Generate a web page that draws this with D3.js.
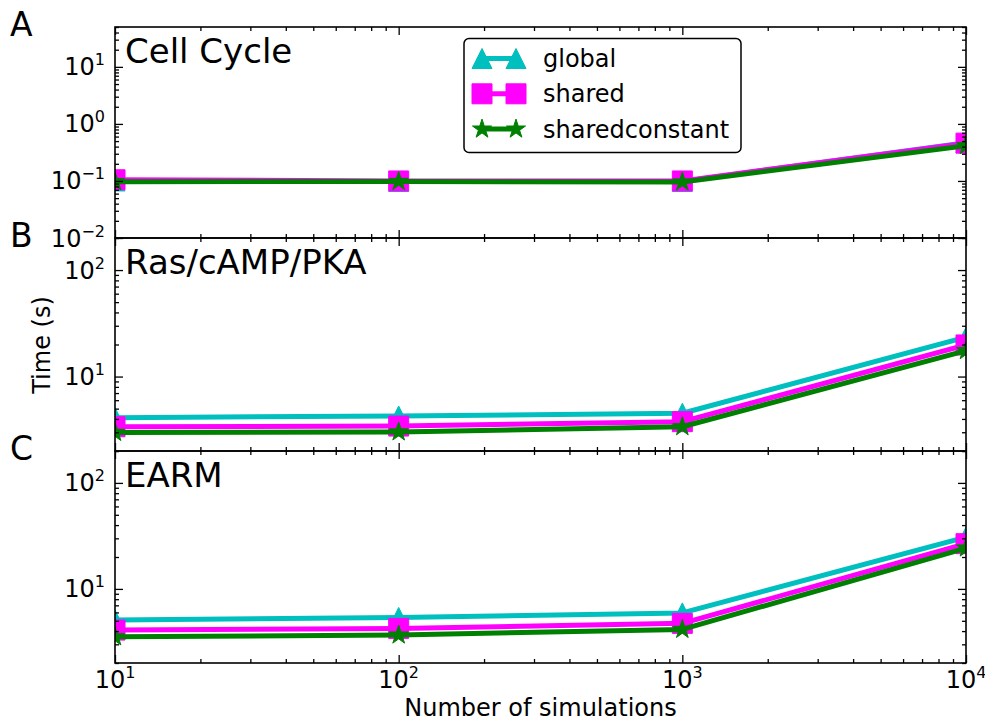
<!DOCTYPE html>
<html>
<head>
<meta charset="utf-8">
<script src="https://cdn.jsdelivr.net/npm/d3@7"></script>
<style>
	body { margin: 0; background: #fff; }
	text { font-family: 'DejaVu Sans', sans-serif; fill: #000; }
	.tickLabel { font-size: 24px; }
	.panelTitle { font-size: 34px; }
	.panelLetter { font-size: 33px; }
	.axisLabel { font-size: 24px; }
	.legendText { font-size: 24px; }
</style>
</head>
<body>
<svg id="chart" width="985" height="723"></svg>
<script>
// values
var sims = [10, 100, 1000, 10000];
var seriesNames = ['global', 'shared', 'sharedconstant'];
var seriesColors = ['#00bfbf', '#ff00ff', '#008000'];
var seriesMarkers = ['triangle', 'square', 'star'];

var cellCycleGlobal = [0.1, 0.098, 0.098, 0.47];
var cellCycleShared = [0.105, 0.1, 0.1, 0.46];
var cellCycleSharedConst = [0.097, 0.098, 0.096, 0.415];

var rasGlobal = [4.11, 4.26, 4.52, 23.4];
var rasShared = [3.38, 3.43, 3.77, 19.8];
var rasSharedConst = [2.99, 3.02, 3.38, 17.5];

var earmGlobal = [5.08, 5.38, 5.94, 30.8];
var earmShared = [4.09, 4.24, 4.73, 26.7];
var earmSharedConst = [3.53, 3.67, 4.15, 24.3];

var panelTitles = ['Cell Cycle', 'Ras/cAMP/PKA', 'EARM'];
var panelLetters = ['A', 'B', 'C'];
var cellCycleDomain = [0.01, 50];
var rasDomain = [2, 200];
var earmDomain = [2, 200];
var xTickExps = [1, 2, 3, 4];
var cellCycleTickExps = [-2, -1, 0, 1];
var rasTickExps = [1, 2];
var earmTickExps = [1, 2];

var svg = d3.select('#chart');
var plotLeft = 115, plotRight = 966;
var panelTops = [27, 238, 451];
var panelH = [211, 213, 212];
var markerSize = 20;

var x = d3.scaleLog().domain([10, 10000]).range([plotLeft, plotRight]);

var panels = [
	{data: [cellCycleGlobal, cellCycleShared, cellCycleSharedConst], domain: cellCycleDomain, exps: cellCycleTickExps},
	{data: [rasGlobal, rasShared, rasSharedConst], domain: rasDomain, exps: rasTickExps},
	{data: [earmGlobal, earmShared, earmSharedConst], domain: earmDomain, exps: earmTickExps}
];

markerPath = function(kind, s){
	var h = s / 2;
	if (kind == 'triangle'){
		return 'M0,' + (-h) + 'L' + h + ',' + h + 'L' + (-h) + ',' + h + 'Z';
	}
	else if (kind == 'square'){
		return 'M' + (-h) + ',' + (-h) + 'H' + h + 'V' + h + 'H' + (-h) + 'Z';
	}
	// five point star
	var pts = [];
	for (var i = 0; i < 10; i++){
		var r = (i % 2 == 0) ? h : h * 0.381966;
		var a = -Math.PI / 2 + i * Math.PI / 5;
		pts.push([r * Math.cos(a), r * Math.sin(a)]);
	}
	return 'M' + pts.map(function(p){ return p[0].toFixed(2) + ',' + p[1].toFixed(2); }).join('L') + 'Z';
};

minorTicks = function(domain){
	var out = [];
	var lo = Math.floor(Math.log10(domain[0])), hi = Math.ceil(Math.log10(domain[1]));
	for (var e = lo; e <= hi; e++){
		for (var m = 2; m <= 9; m++){
			var v = m * Math.pow(10, e);
			if (v >= domain[0] && v <= domain[1]) out.push(v);
		}
	}
	return out;
};

powLabel = function(sel, exp, anchor){
	sel.attr('class', 'tickLabel').attr('text-anchor', anchor);
	sel.append('tspan').text('10');
	sel.append('tspan')
		.attr('font-size', 16)
		.attr('dy', -10)
		.text(String(exp).replace('-', '\u2212'));
};

addPanel = function(p, i){
	var top = panelTops[i], h = panelH[i];
	var y = d3.scaleLog().domain(p.domain).range([top + h, top]);
	var g = svg.append('g').attr('id', 'panel' + panelLetters[i]);

	g.append('clipPath')
		.attr('id', 'clip' + i)
		.append('rect')
		.attr('x', plotLeft)
		.attr('y', top)
		.attr('width', plotRight - plotLeft)
		.attr('height', h);

	// series lines and markers
	var line = d3.line()
		.x(function(d, j){ return x(sims[j]); })
		.y(function(d){ return y(d); });
	var plotG = g.append('g').attr('clip-path', 'url(#clip' + i + ')');
	p.data.forEach(function(vals, k){
		plotG.append('path')
			.attr('d', line(vals))
			.attr('fill', 'none')
			.attr('stroke', seriesColors[k])
			.attr('stroke-width', 5)
			.attr('stroke-linejoin', 'round');
		plotG.selectAll('.mk' + k)
			.data(vals)
			.enter()
			.append('path')
			.attr('class', 'mk' + k)
			.attr('transform', function(d, j){ return 'translate(' + x(sims[j]) + ',' + y(d) + ')'; })
			.attr('d', markerPath(seriesMarkers[k], markerSize))
			.attr('fill', seriesColors[k])
			.attr('stroke', seriesColors[k])
			.attr('stroke-width', 1);
	});

	// ticks on all four sides, pointing in
	var majX = xTickExps.map(function(e){ return Math.pow(10, e); });
	var majY = p.exps.map(function(e){ return Math.pow(10, e); });
	var axes = [
		[d3.axisBottom(x).tickValues(majX), 'translate(0,' + (top + h) + ')', 8],
		[d3.axisBottom(x).tickValues(minorTicks([10, 10000])), 'translate(0,' + (top + h) + ')', 4],
		[d3.axisTop(x).tickValues(majX), 'translate(0,' + top + ')', 8],
		[d3.axisTop(x).tickValues(minorTicks([10, 10000])), 'translate(0,' + top + ')', 4],
		[d3.axisLeft(y).tickValues(majY), 'translate(' + plotLeft + ',0)', 8],
		[d3.axisLeft(y).tickValues(minorTicks(p.domain)), 'translate(' + plotLeft + ',0)', 4],
		[d3.axisRight(y).tickValues(majY), 'translate(' + plotRight + ',0)', 8],
		[d3.axisRight(y).tickValues(minorTicks(p.domain)), 'translate(' + plotRight + ',0)', 4]
	];
	axes.forEach(function(a){
		var ax = g.append('g')
			.attr('transform', a[1])
			.call(a[0].tickSizeInner(-a[2]).tickSizeOuter(0).tickFormat(''));
		ax.select('.domain').remove();
		ax.selectAll('line').attr('stroke', '#000').attr('stroke-width', 1.3);
	});

	g.append('rect')
		.attr('x', plotLeft)
		.attr('y', top)
		.attr('width', plotRight - plotLeft)
		.attr('height', h)
		.attr('fill', 'none')
		.attr('stroke', '#000')
		.attr('stroke-width', 1.6);

	// y tick labels
	majY.forEach(function(v, j){
		g.append('text')
			.attr('x', plotLeft - 10)
			.attr('y', y(v) + 8.5)
			.call(powLabel, p.exps[j], 'end');
	});

	g.append('text')
		.attr('class', 'panelTitle')
		.attr('x', plotLeft + 10)
		.attr('y', top + 36)
		.text(panelTitles[i]);
	g.append('text')
		.attr('class', 'panelLetter')
		.attr('x', 10)
		.attr('y', top + 9)
		.text(panelLetters[i]);

	// x tick labels only under the last panel
	if (i == panels.length - 1){
		majX.forEach(function(v, j){
			g.append('text')
				.attr('x', x(v))
				.attr('y', top + h + 25)
				.call(powLabel, xTickExps[j], 'middle');
		});
	}
};

addLegend = function(){
	var lg = svg.append('g').attr('id', 'legend');
	lg.append('rect')
		.attr('x', 464)
		.attr('y', 38.5)
		.attr('width', 277)
		.attr('height', 114)
		.attr('rx', 5)
		.attr('fill', '#fff')
		.attr('stroke', '#000')
		.attr('stroke-width', 1.5);
	seriesNames.forEach(function(name, k){
		var cy = 58.5 + k * 35.3;
		lg.append('line')
			.attr('x1', 482)
			.attr('x2', 516)
			.attr('y1', cy)
			.attr('y2', cy)
			.attr('stroke', seriesColors[k])
			.attr('stroke-width', 5);
		[482, 516].forEach(function(mx){
			lg.append('path')
				.attr('transform', 'translate(' + mx + ',' + cy + ')')
				.attr('d', markerPath(seriesMarkers[k], markerSize))
				.attr('fill', seriesColors[k])
				.attr('stroke', seriesColors[k])
				.attr('stroke-width', 1);
		});
		lg.append('text')
			.attr('class', 'legendText')
			.attr('x', 543)
			.attr('y', cy + 8.5)
			.text(name);
	});
};

panels.forEach(addPanel);
addLegend();

svg.append('text')
	.attr('class', 'axisLabel')
	.attr('text-anchor', 'middle')
	.attr('transform', 'translate(50,345) rotate(-90)')
	.text('Time (s)');
svg.append('text')
	.attr('class', 'axisLabel')
	.attr('text-anchor', 'middle')
	.attr('x', (plotLeft + plotRight) / 2)
	.attr('y', 716)
	.text('Number of simulations');
</script>
</body>
</html>
